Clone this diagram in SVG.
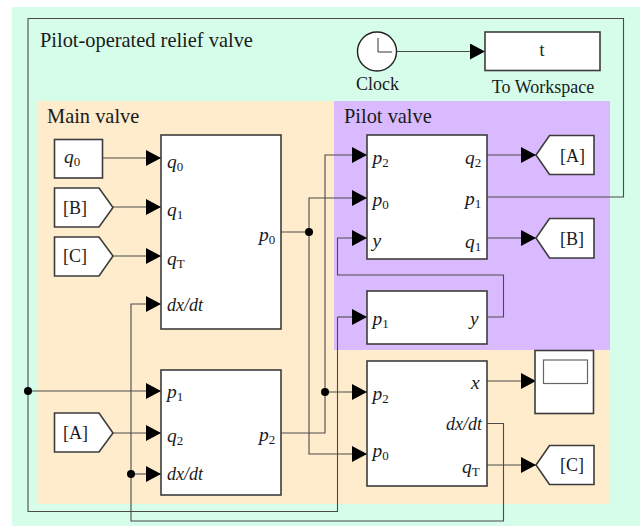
<svg xmlns="http://www.w3.org/2000/svg" width="644" height="526" viewBox="0 0 644 526">
<defs>
<marker id="a" markerUnits="userSpaceOnUse" markerWidth="15" markerHeight="16" refX="15" refY="8" orient="auto"><path d="M0 0L15 8L0 16Z" fill="#000"/></marker>
</defs>
<style>
text{font-family:"Liberation Serif","Times New Roman",serif;fill:#1a1a1a}
.t{font-size:20.400px}
.s{font-size:18px}
.l{font-size:19.500px;font-style:italic}
.d{font-size:18px;font-style:italic}
.u{font-size:13px;font-style:normal}
.b{fill:#fff;stroke:#3c3c3c;stroke-width:1.6}
.c{fill:none;stroke:#4a4a4a;stroke-width:1.1}
.h{marker-end:url(#a)}
</style>
<rect width="644" height="526" fill="#fff"/>
<rect x="12" y="7" width="628" height="519" fill="#d6fde9"/>
<rect x="38" y="101" width="572" height="403" fill="#feeccd"/>
<rect x="334" y="101" width="276" height="249" fill="#dabaff"/>
<text class="t" x="40" y="47">Pilot-operated relief valve</text>
<text class="t" x="47" y="123">Main valve</text>
<text class="t" x="344" y="123">Pilot valve</text>
<g id="connectors" class="c">
<path d="M487 197H623.5V18.5H28V511.5H337.5V317"/>
<path class="h" d="M337.5 317H367"/>
<path class="h" d="M397 51.500H485"/>
<path class="h" d="M103 158H161"/>
<path class="h" d="M113 207H161"/>
<path class="h" d="M113 256H161"/>
<path class="h" d="M131 474V304H161"/>
<path class="h" d="M28 391H161"/>
<path class="h" d="M113 433H161"/>
<path class="h" d="M131 474H161"/>
<path d="M131 474V521H503.500V423.500H487"/>
<path class="h" d="M281 232H309V198H367"/>
<path class="h" d="M309 232V454H367"/>
<path class="h" d="M281 433H325V155H367"/>
<path class="h" d="M325 392H367"/>
<path class="h" d="M487 155H536"/>
<path class="h" d="M487 238H536"/>
<path class="h" d="M487 317H503.500V275H337.500V238H367"/>
<path class="h" d="M487 381H536"/>
<path class="h" d="M487 465H536"/>
</g>
<g fill="#000">
<circle cx="309" cy="232" r="4"/><circle cx="28" cy="391" r="4"/><circle cx="131" cy="474" r="4"/><circle cx="325" cy="392" r="4"/>
</g>
<g id="clock"><circle cx="377" cy="51.500" r="19.500" fill="#fff" stroke="#222" stroke-width="1.400"/><path d="M378 38V52H392" fill="none" stroke="#333"/><text class="s" x="377.500" y="90" text-anchor="middle">Clock</text></g>
<g id="workspace"><rect class="b" x="485" y="32" width="115" height="38.500"/><text class="s" x="542" y="56" text-anchor="middle">t</text><text class="s" x="543" y="93" text-anchor="middle">To Workspace</text></g>
<g id="q0src"><rect class="b" x="54.500" y="139.500" width="48" height="38.500"/><text class="l" x="64" y="163">q<tspan class="u" dy="2.500">0</tspan></text></g>
<g id="fromB"><path class="b" d="M54.500 188H99L113 207.500L99 227H54.500Z"/><text class="s" x="63" y="214">[B]</text></g>
<g id="fromC"><path class="b" d="M54.500 237H99L113 256L99 276H54.500Z"/><text class="s" x="63" y="262">[C]</text></g>
<g id="fromA"><path class="b" d="M54.500 413H99L113 433L99 452H54.500Z"/><text class="s" x="63" y="439">[A]</text></g>
<g id="mainTop"><rect class="b" x="161" y="135" width="120" height="194"/>
<text class="l" x="167" y="168">q<tspan class="u" dy="2.500">0</tspan></text>
<text class="l" x="167" y="216">q<tspan class="u" dy="2.500">1</tspan></text>
<text class="l" x="167" y="265">q<tspan class="u" dy="2.500">T</tspan></text>
<text class="d" x="167" y="311">dx/dt</text>
<text class="l" x="259" y="241">p<tspan class="u" dy="2.500">0</tspan></text></g>
<g id="mainBottom"><rect class="b" x="161" y="370" width="120" height="125"/>
<text class="l" x="167" y="398">p<tspan class="u" dy="2.500">1</tspan></text>
<text class="l" x="167" y="442">q<tspan class="u" dy="2.500">2</tspan></text>
<text class="d" x="167" y="480">dx/dt</text>
<text class="l" x="259" y="441">p<tspan class="u" dy="2.500">2</tspan></text></g>
<g id="pilotTop"><rect class="b" x="367" y="135" width="120" height="124"/>
<text class="l" x="372.500" y="164">p<tspan class="u" dy="2.500">2</tspan></text>
<text class="l" x="372.500" y="206">p<tspan class="u" dy="2.500">0</tspan></text>
<text class="l" x="372.500" y="247">y</text>
<text class="l" x="465" y="164">q<tspan class="u" dy="2.500">2</tspan></text>
<text class="l" x="465" y="205">p<tspan class="u" dy="2.500">1</tspan></text>
<text class="l" x="465" y="248">q<tspan class="u" dy="2.500">1</tspan></text></g>
<g id="pilotBottom"><rect class="b" x="367" y="291" width="120" height="53"/>
<text class="l" x="372.500" y="325">p<tspan class="u" dy="2.500">1</tspan></text>
<text class="l" x="470" y="325">y</text></g>
<g id="spool"><rect class="b" x="367" y="361" width="120" height="125"/>
<text class="l" x="372.500" y="400">p<tspan class="u" dy="2.500">2</tspan></text>
<text class="l" x="372.500" y="457">p<tspan class="u" dy="2.500">0</tspan></text>
<text class="l" x="471" y="389">x</text>
<text class="d" x="446" y="430">dx/dt</text>
<text class="l" x="462" y="473">q<tspan class="u" dy="2.500">T</tspan></text></g>
<g id="toA"><path class="b" d="M594 135.500H549.500L536 155L549.500 174.500H594Z"/><text class="s" x="560" y="162">[A]</text></g>
<g id="toB"><path class="b" d="M594 218.500H549.500L536 238L549.500 258H594Z"/><text class="s" x="560" y="245">[B]</text></g>
<g id="toC"><path class="b" d="M594 445.500H549.500L536 465L549.500 484.500H594Z"/><text class="s" x="560" y="471">[C]</text></g>
<g id="scope"><rect class="b" x="535" y="350.500" width="58.500" height="63"/><rect x="543.500" y="360" width="44" height="23.500" fill="#fff" stroke="#666" stroke-width="1.200"/></g>
</svg>
